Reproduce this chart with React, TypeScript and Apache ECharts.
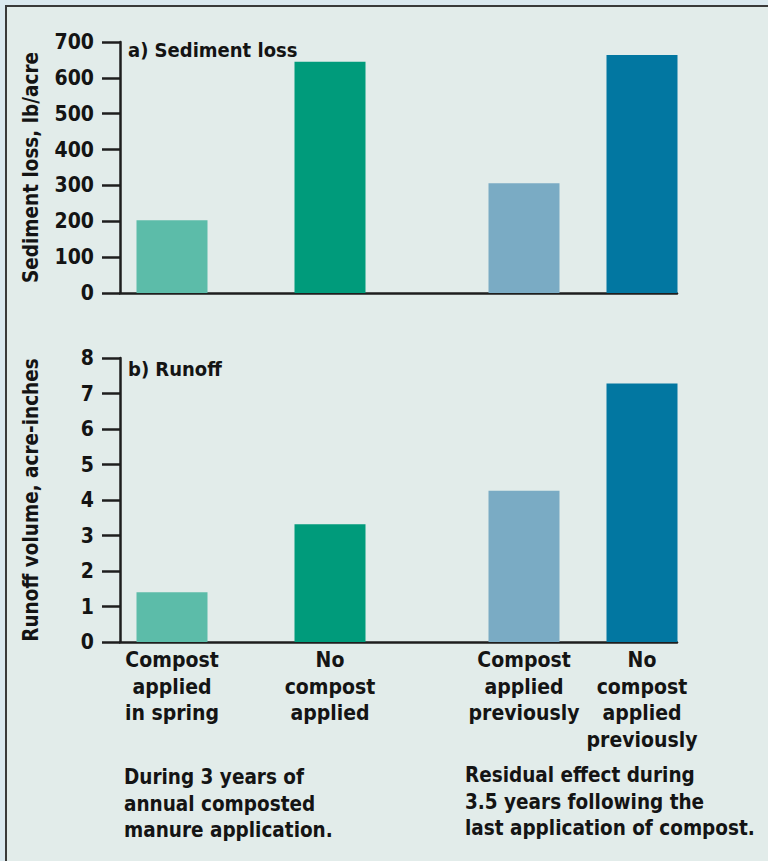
import React, { useEffect, useRef } from "react";
import * as echarts from "echarts";

const categories = [
  "Compost\napplied\nin spring",
  "No\ncompost\napplied",
  "Compost\napplied\npreviously",
  "No\ncompost\napplied\npreviously",
];
// position of each bar along the (hidden) x value axis, 0..557
const barPositions = [52, 210, 404, 522];
const xAxisMax = 557;
const sedimentLoss = [203, 645, 306, 664];
const runoff = [1.4, 3.32, 4.26, 7.28];
const barColors = ["#5cbca9", "#009b7b", "#7aabc4", "#0277a1"];
const sedimentAxis = { min: 0, max: 700, interval: 100 };
const runoffAxis = { min: 0, max: 8, interval: 1 };
const panelTitles = ["a) Sediment loss", "b) Runoff"];
const yAxisNames = ["Sediment loss, lb/acre", "Runoff volume, acre-inches"];
const notes = [
  "During 3 years of\nannual composted\nmanure application.",
  "Residual effect during\n3.5 years following the\nlast application of compost.",
];

const FONT = "'DejaVu Sans Condensed', 'DejaVu Sans', sans-serif";
const INK = "#141414";

export default function App() {
  const ref = useRef<HTMLDivElement>(null);
  useEffect(() => {
    if (!ref.current) return;
    const chart = echarts.init(ref.current, null, { renderer: "svg" });
    const axisLine = { show: true, lineStyle: { color: "#1e1e1e", width: 2.5 } };
    const yAxisCommon = (name: string, range: any, gridIndex: number) => ({
      type: "value",
      gridIndex,
      min: range.min,
      max: range.max,
      interval: range.interval,
      name,
      nameLocation: "middle",
      nameRotate: 90,
      nameGap: 79,
      nameTextStyle: { fontFamily: FONT, fontWeight: "bold", fontSize: 20.5, color: INK },
      axisLine,
      axisTick: { show: true, length: 18, lineStyle: { color: "#1e1e1e", width: 2.5 } },
      axisLabel: { margin: 26, fontFamily: FONT, fontWeight: "bold", fontSize: 21, color: INK },
      splitLine: { show: false },
    });
    const barData = (vals: number[]) =>
      vals.map((v, i) => ({ value: [barPositions[i], v], itemStyle: { color: barColors[i] } }));
    const titleStyle = { fontFamily: FONT, fontWeight: "bold", fontSize: 20, color: INK };
    const noteStyle = { fontFamily: FONT, fontWeight: "bold", fontSize: 20.5, lineHeight: 26.5, color: INK };

    chart.setOption({
      animation: false,
      backgroundColor: "#dbe9ef",
      graphic: [
        {
          type: "rect",
          z: -100,
          shape: { x: 6, y: 6, width: 800, height: 900 },
          style: { fill: "#e2ecea", stroke: "#3a3a3a", lineWidth: 2 },
        },
      ],
      title: [
        { text: panelTitles[0], left: 128, top: 40, padding: 0, textStyle: titleStyle },
        { text: panelTitles[1], left: 128, top: 359, padding: 0, textStyle: titleStyle },
        { text: notes[0], left: 124, top: 764, padding: 0, textStyle: noteStyle },
        { text: notes[1], left: 465, top: 762, padding: 0, textStyle: noteStyle },
      ],
      grid: [
        { left: 120, top: 42, width: xAxisMax, height: 251 },
        { left: 120, top: 358, width: xAxisMax, height: 284 },
      ],
      xAxis: [
        {
          type: "value",
          gridIndex: 0,
          min: 0,
          max: xAxisMax,
          axisLine,
          axisTick: { show: false },
          axisLabel: { show: false },
          splitLine: { show: false },
        },
        {
          type: "value",
          gridIndex: 1,
          min: 0,
          max: xAxisMax,
          axisLine,
          axisTick: { show: false },
          axisLabel: {
            show: true,
            customValues: barPositions,
            formatter: (v: number) => {
              const i = barPositions.indexOf(v);
              return i >= 0 ? categories[i] : "";
            },
            margin: 5,
            fontFamily: FONT,
            fontWeight: "bold",
            fontSize: 21,
            lineHeight: 26.5,
            color: INK,
          },
          splitLine: { show: false },
        },
      ],
      yAxis: [yAxisCommon(yAxisNames[0], sedimentAxis, 0), yAxisCommon(yAxisNames[1], runoffAxis, 1)],
      series: [
        { type: "bar", xAxisIndex: 0, yAxisIndex: 0, barWidth: 71, data: barData(sedimentLoss) },
        { type: "bar", xAxisIndex: 1, yAxisIndex: 1, barWidth: 71, data: barData(runoff) },
      ],
    });
    return () => chart.dispose();
  }, []);
  return (
    <div
      ref={ref}
      style={{ position: "fixed", left: 0, top: 0, width: 768, height: 861 }}
    />
  );
}
